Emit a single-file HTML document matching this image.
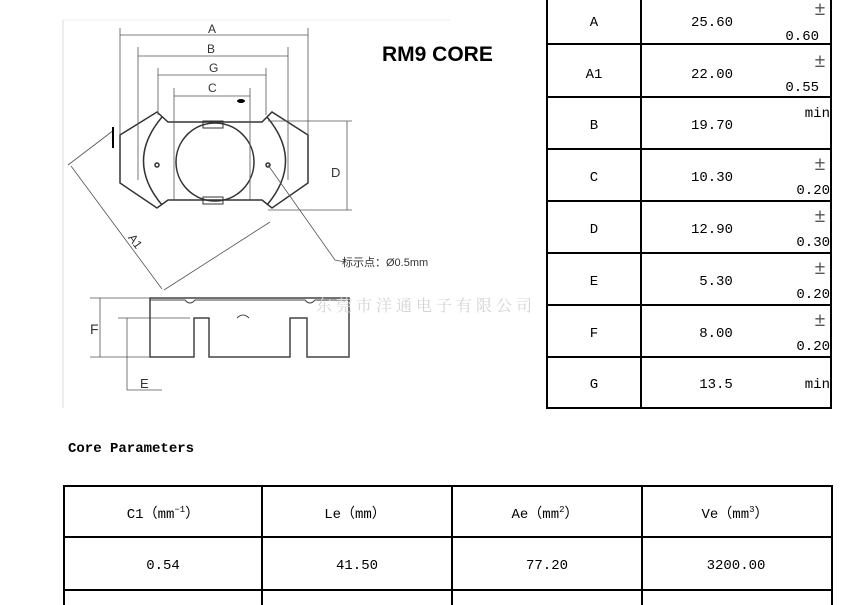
<!DOCTYPE html>
<html><head><meta charset="utf-8"><style>
html,body{margin:0;padding:0;background:#fff;width:850px;height:605px;overflow:hidden}
svg{display:block}
.m{font-family:"Liberation Mono","Noto Sans CJK SC",monospace;font-size:14px;fill:#000}
.s{font-family:"Liberation Sans",sans-serif;fill:#333}
.pm{font-family:"Liberation Sans",sans-serif;font-size:19px;fill:#555}
</style></head><body>
<svg width="850" height="605" viewBox="0 0 850 605" xmlns="http://www.w3.org/2000/svg">
<rect x="0" y="0" width="850" height="605" fill="#fff"/>
<line x1="63" y1="20" x2="450" y2="20" stroke="#eee"/>
<line x1="63" y1="20" x2="63" y2="408" stroke="#ddd"/>
<g fill="none" stroke="#333" stroke-width="1.5">
 <path d="M120,135 L157,112 L168,122 L262,122 L272,112 L308,135 L308,183 L272,208 L262,200 L168,200 L157,208 L120,183 Z"/>
 <path d="M162,117 Q125,161 162,205"/>
 <path d="M267,117 Q304,161 267,205"/>
 <circle cx="215" cy="162" r="39"/>
 <rect x="203" y="121" width="20" height="7" stroke-width="1"/>
 <rect x="203" y="197" width="20" height="7" stroke-width="1"/>
 <circle cx="157" cy="165" r="2"/><circle cx="268" cy="165" r="2"/>
</g>
<g stroke="#555" stroke-width="0.8" fill="none">
 <line x1="120" y1="28" x2="120" y2="135"/><line x1="308" y1="28" x2="308" y2="135"/>
 <line x1="120" y1="35" x2="308" y2="35"/>
 <line x1="138" y1="47" x2="138" y2="180"/><line x1="288" y1="47" x2="288" y2="180"/>
 <line x1="138" y1="56" x2="288" y2="56"/>
 <line x1="158" y1="68" x2="158" y2="115"/><line x1="266" y1="68" x2="266" y2="115"/>
 <line x1="158" y1="75" x2="266" y2="75"/>
 <line x1="174" y1="88" x2="174" y2="200"/><line x1="250" y1="88" x2="250" y2="200"/>
 <line x1="174" y1="96" x2="250" y2="96"/>
 <line x1="268" y1="121" x2="352" y2="121"/><line x1="268" y1="210" x2="352" y2="210"/>
 <line x1="347" y1="121" x2="347" y2="210"/>
 <line x1="114" y1="130" x2="68" y2="165"/>
 <line x1="71" y1="166" x2="162" y2="289"/>
 <line x1="164" y1="290" x2="270" y2="222"/>
 <polyline points="268,165 335,260 345,262"/>
 <line x1="90" y1="298" x2="152" y2="298"/><line x1="90" y1="357" x2="152" y2="357"/>
 <line x1="100" y1="298" x2="100" y2="357"/>
 <line x1="118" y1="318" x2="190" y2="318"/>
 <line x1="127" y1="318" x2="127" y2="390"/><line x1="127" y1="390" x2="162" y2="390"/>
</g>
<line x1="113" y1="127" x2="113" y2="148" stroke="#000" stroke-width="2"/>
<ellipse cx="241" cy="101" rx="4" ry="2" fill="#000"/>
<g fill="none" stroke="#444" stroke-width="1.5">
 <path d="M150,298 L349,298 L349,357 L307,357 L307,318 L290,318 L290,357 L209,357 L209,318 L194,318 L194,357 L150,357 Z"/>
 <path d="M150,300 L185,300 Q190,306 195,300 L305,300 Q310,306 315,300 L349,300" stroke-width="1"/>
 <path d="M237,318 Q243,312 249,318" stroke-width="1"/>
</g>
<g class="s" font-size="12">
 <text x="208" y="33">A</text><text x="207" y="53">B</text><text x="209" y="72">G</text><text x="208" y="92">C</text>
 <text x="331" y="177" font-size="13">D</text>
 <text x="128" y="243" transform="rotate(54 133 240)">A1</text>
 <text x="90" y="334" font-size="14">F</text><text x="140" y="388" font-size="13">E</text>
 <text x="342" y="266" font-size="11" font-family="'Liberation Sans','Noto Sans CJK SC',sans-serif">标示点：Ø0.5mm</text>
</g>
<text x="382" y="61" font-family="'Liberation Sans',sans-serif" font-weight="bold" font-size="21" fill="#000">RM9 CORE</text>
<text x="316" y="311" font-family="'Noto Serif CJK SC',serif" font-size="16" fill="#d4d4d4" letter-spacing="4">东莞市洋通电子有限公司</text>
<g stroke="#000" stroke-width="2" fill="none">
 <line x1="547" y1="0" x2="547" y2="408"/><line x1="641" y1="0" x2="641" y2="408"/><line x1="831" y1="0" x2="831" y2="408"/>
 <line x1="546" y1="44" x2="832" y2="44"/><line x1="546" y1="97" x2="832" y2="97"/><line x1="546" y1="149" x2="832" y2="149"/>
 <line x1="546" y1="201" x2="832" y2="201"/><line x1="546" y1="253" x2="832" y2="253"/><line x1="546" y1="305" x2="832" y2="305"/>
 <line x1="546" y1="357" x2="832" y2="357"/><line x1="546" y1="408" x2="832" y2="408"/>
</g>
<g class="m" text-anchor="middle">
 <text x="594" y="26">A</text><text x="712" y="26">25.60</text>
 <text x="594" y="78">A1</text><text x="712" y="78">22.00</text>
 <text x="594" y="129">B</text><text x="712" y="129">19.70</text>
 <text x="594" y="181">C</text><text x="712" y="181">10.30</text>
 <text x="594" y="233">D</text><text x="712" y="233">12.90</text>
 <text x="594" y="285">E</text><text x="716" y="285">5.30</text>
 <text x="594" y="337">F</text><text x="716" y="337">8.00</text>
 <text x="594" y="388">G</text><text x="716" y="388">13.5</text>
</g>
<g class="pm" text-anchor="middle">
 <text x="820" y="15">±</text><text x="820" y="67">±</text><text x="820" y="170">±</text>
 <text x="820" y="222">±</text><text x="820" y="274">±</text><text x="820" y="326">±</text>
</g>
<g class="m" text-anchor="end">
 <text x="819" y="40">0.60</text>
 <text x="819" y="91">0.55</text>
 <text x="830" y="117">min</text>
 <text x="830" y="194">0.20</text>
 <text x="830" y="246">0.30</text>
 <text x="830" y="298">0.20</text>
 <text x="830" y="350">0.20</text>
 <text x="830" y="388">min</text>
</g>
<text x="68" y="452" class="m" font-weight="bold" font-size="13">Core Parameters</text>
<g stroke="#000" stroke-width="2" fill="none">
 <line x1="63" y1="486" x2="833" y2="486"/><line x1="63" y1="537" x2="833" y2="537"/><line x1="63" y1="590" x2="833" y2="590"/>
 <line x1="64" y1="486" x2="64" y2="605"/><line x1="262" y1="486" x2="262" y2="605"/>
 <line x1="452" y1="486" x2="452" y2="605"/><line x1="642" y1="486" x2="642" y2="605"/><line x1="832" y1="486" x2="832" y2="605"/>
</g>
<g class="m" text-anchor="middle" font-size="13">
 <text x="163" y="518">C1（mm<tspan dy="-6" font-size="9">−1</tspan><tspan dy="6">）</tspan></text>
 <text x="355" y="518">Le（mm）</text>
 <text x="545" y="518">Ae（mm<tspan dy="-6" font-size="9">2</tspan><tspan dy="6">）</tspan></text>
 <text x="735" y="518">Ve（mm<tspan dy="-6" font-size="9">3</tspan><tspan dy="6">）</tspan></text>
 <text x="163" y="569">0.54</text><text x="357" y="569">41.50</text>
 <text x="547" y="569">77.20</text><text x="736" y="569">3200.00</text>
</g>
</svg>
</body></html>
